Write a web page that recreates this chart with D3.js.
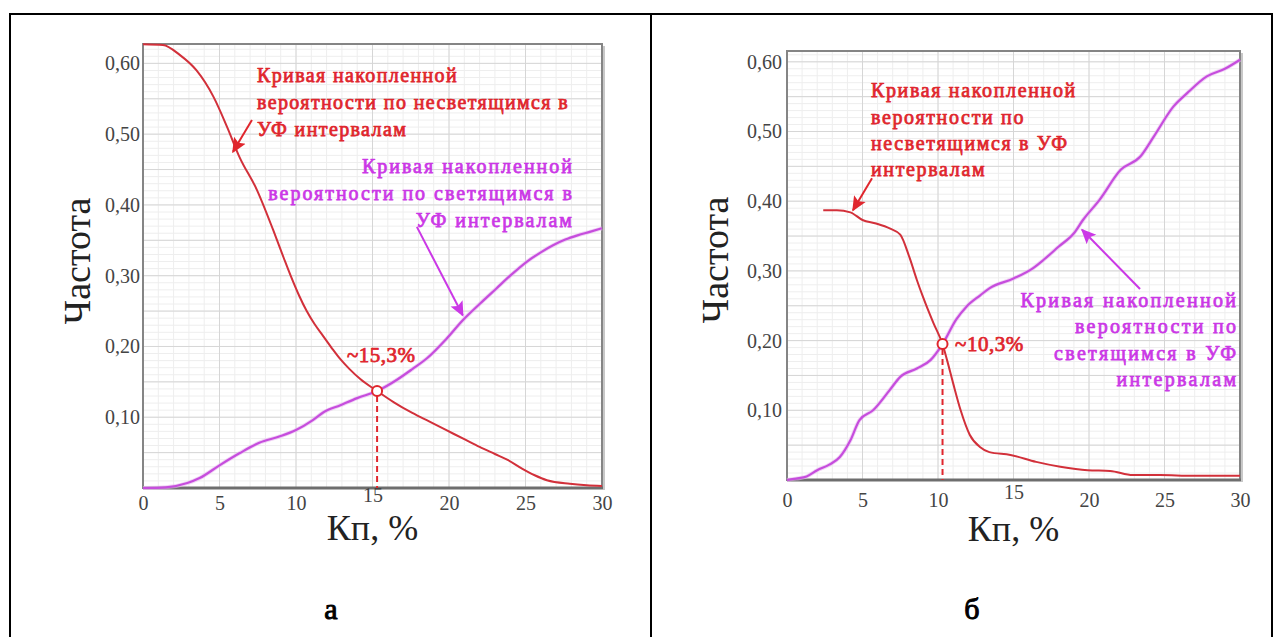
<!DOCTYPE html>
<html><head><meta charset="utf-8">
<script src="https://cdn.jsdelivr.net/npm/d3@7"></script>
<style>
html,body{margin:0;padding:0;background:#fff;}
svg{display:block;}
</style></head>
<body>
<svg id="chart" width="1282" height="637"></svg>
<script>
// ---------- DATA ----------
// Panel "а"
const kpA_dark  = [0, 1.3, 2.4, 3.5, 4.6, 5.5, 6.3, 7.45, 8.5, 9.2, 9.65, 10.2, 10.7, 11.2, 11.8, 12.4, 12.9, 13.5, 14.2, 15.3, 16.4, 17.6, 18.7, 19.8, 21.0, 22.0, 23.0, 23.8, 24.8, 25.6, 26.4, 27.9, 29.0, 30];
const freqA_dark = [0.627, 0.626, 0.612, 0.59, 0.553, 0.51, 0.468, 0.421, 0.365, 0.325, 0.300, 0.272, 0.250, 0.232, 0.214, 0.196, 0.182, 0.168, 0.154, 0.137, 0.121, 0.106, 0.094, 0.082, 0.069, 0.058, 0.048, 0.040, 0.027, 0.018, 0.011, 0.006, 0.004, 0.003];
const kpA_glow  = [0, 1.5, 2.9, 3.7, 5.0, 6.3, 7.6, 8.95, 10.0, 11.1, 11.8, 12.9, 14.0, 15.3, 16.6, 17.6, 18.6, 19.8, 20.9, 22.0, 23.1, 24.0, 25.1, 26.0, 26.8, 27.6, 28.4, 29.2, 30];
const freqA_glow = [0, 0.001, 0.007, 0.014, 0.032, 0.049, 0.064, 0.073, 0.082, 0.096, 0.107, 0.117, 0.127, 0.137, 0.153, 0.168, 0.184, 0.21, 0.237, 0.26, 0.282, 0.30, 0.32, 0.333, 0.343, 0.351, 0.357, 0.362, 0.367];
const crossA = [15.3, 0.137];

// Panel "б"
const kpB_dark  = [2.4, 3.3, 4.2, 5.0, 5.9, 6.8, 7.5, 8.1, 8.6, 9.0, 9.7, 10.3, 10.6, 11.0, 11.5, 12.1, 12.8, 13.4, 14.8, 16.5, 18.1, 19.9, 21.4, 22.9, 24.7, 26.9, 30];
const freqB_dark = [0.387, 0.387, 0.384, 0.373, 0.368, 0.361, 0.352, 0.320, 0.287, 0.263, 0.225, 0.195, 0.172, 0.139, 0.100, 0.065, 0.047, 0.040, 0.036, 0.026, 0.019, 0.014, 0.013, 0.007, 0.007, 0.006, 0.006];
const kpB_glow  = [0, 0.6, 1.3, 2.0, 2.8, 3.5, 4.2, 4.8, 5.7, 6.8, 7.5, 8.6, 9.5, 10.3, 11.2, 11.9, 12.8, 13.4, 15.0, 16.3, 17.0, 18.0, 19.0, 19.6, 20.7, 22.1, 23.4, 24.3, 25.6, 26.5, 27.8, 29.0, 30];
const freqB_glow = [0, 0.002, 0.005, 0.014, 0.022, 0.033, 0.057, 0.086, 0.100, 0.129, 0.148, 0.160, 0.172, 0.195, 0.230, 0.249, 0.265, 0.275, 0.289, 0.304, 0.316, 0.335, 0.354, 0.373, 0.402, 0.445, 0.464, 0.493, 0.536, 0.555, 0.579, 0.590, 0.603];
const crossB = [10.3, 0.195];

// Ticks / labels
const xTicks = [0, 5, 10, 15, 20, 25, 30];
const yTicks = [0.1, 0.2, 0.3, 0.4, 0.5, 0.6];
const xTitle = "Кп, %";
const yTitle = "Частота";
const darkLabelA = ["Кривая накопленной", "вероятности по несветящимся в", "УФ интервалам"];
const glowLabelA = ["Кривая накопленной", "вероятности по светящимся в", "УФ интервалам"];
const darkLabelB = ["Кривая накопленной", "вероятности по", "несветящимся в УФ", "интервалам"];
const glowLabelB = ["Кривая накопленной", "вероятности по", "светящимся в УФ", "интервалам"];
const crossLabelA = "~15,3%";
const crossLabelB = "~10,3%";
const captions = ["а", "б"];

// ---------- DRAW ----------
const svg = d3.select("#chart");
const RED = "#d2303a", MAG = "#c64ddd", RED_T = "#e0262d", MAG_T = "#cb38e6";
const SERIF = "'Liberation Serif','Times New Roman',serif";

// faux-bold serif text (bold serif face may be unavailable)
function boldText(sel, color, sw) {
  return sel.attr("font-family", SERIF).attr("font-weight", "normal").attr("fill", color)
    .attr("stroke", color).attr("stroke-width", sw || 0.75).attr("stroke-linejoin", "round");
}

// table borders
svg.append("g").attr("stroke", "#000").attr("stroke-width", 2).attr("fill", "none")
  .call(g => {
    g.append("line").attr("x1", 10).attr("y1", 14).attr("x2", 1272).attr("y2", 14);
    g.append("line").attr("x1", 10).attr("y1", 13).attr("x2", 10).attr("y2", 637);
    g.append("line").attr("x1", 651).attr("y1", 13).attr("x2", 651).attr("y2", 637);
    g.append("line").attr("x1", 1272).attr("y1", 13).attr("x2", 1272).attr("y2", 637);
  });

const defs = svg.append("defs");
[["arrR", RED_T], ["arrM", MAG_T]].forEach(([id, c]) => {
  defs.append("marker").attr("id", id).attr("viewBox", "0 0 10 10")
    .attr("refX", 9).attr("refY", 5).attr("markerWidth", 15).attr("markerHeight", 15)
    .attr("markerUnits", "userSpaceOnUse").attr("orient", "auto")
    .append("path").attr("d", "M0,0.5 L10,5 L0,9.5 L2,5 z").attr("fill", c);
});

function panel(cfg) {
  const x = d3.scaleLinear().domain([0, 30]).range([cfg.left, cfg.right]);
  const y = d3.scaleLinear().domain([0, cfg.ymax]).range([cfg.bottom, cfg.top]);
  const g = svg.append("g");

  // minor grid
  const gm = g.append("g").attr("stroke", "#eeeeee").attr("stroke-width", 1);
  d3.range(1, 30).forEach(v => gm.append("line").attr("x1", x(v)).attr("x2", x(v)).attr("y1", cfg.top).attr("y2", cfg.bottom));
  d3.range(1, Math.floor(cfg.ymax * 100) + 1).forEach(i => { const v = i / 100; gm.append("line").attr("y1", y(v)).attr("y2", y(v)).attr("x1", cfg.left).attr("x2", cfg.right); });
  // major grid
  const gM = g.append("g").attr("stroke", "#d6d6d6").attr("stroke-width", 1);
  d3.range(5, 30, 5).forEach(v => gM.append("line").attr("x1", x(v)).attr("x2", x(v)).attr("y1", cfg.top).attr("y2", cfg.bottom));
  d3.range(1, Math.floor(cfg.ymax * 20) + 1).forEach(i => { const v = i / 20; gM.append("line").attr("y1", y(v)).attr("y2", y(v)).attr("x1", cfg.left).attr("x2", cfg.right); });

  // frame
  g.append("rect").attr("x", cfg.left).attr("y", cfg.top).attr("width", cfg.right - cfg.left).attr("height", cfg.bottom - cfg.top)
    .attr("fill", "none").attr("stroke", "#858585").attr("stroke-width", 2);
  g.append("line").attr("x1", cfg.left).attr("x2", cfg.right + 1).attr("y1", cfg.bottom).attr("y2", cfg.bottom).attr("stroke", "#6e6e6e").attr("stroke-width", 3);
  g.append("line").attr("x1", cfg.right + 2).attr("x2", cfg.right + 2).attr("y1", cfg.top + 2).attr("y2", cfg.bottom + 2).attr("stroke", "#c8c8c8").attr("stroke-width", 2);

  // axes (labels only)
  const ax = d3.axisBottom(x).tickValues(xTicks).tickSize(0).tickPadding(0).tickFormat(d3.format("d"));
  g.append("g").attr("transform", `translate(0,${cfg.bottom + cfg.xLabelDy})`).call(ax)
    .call(s => s.select(".domain").remove())
    .selectAll("text").attr("font-family", SERIF).attr("font-size", 20).attr("fill", "#444")
    .attr("dy", d => d === 15 ? "-8" : "0");
  const ay = d3.axisLeft(y).tickValues(yTicks).tickSize(0).tickPadding(cfg.yLabelPad).tickFormat(v => d3.format(".2f")(v).replace(".", ","));
  g.append("g").attr("transform", `translate(${cfg.left},0)`).call(ay)
    .call(s => s.select(".domain").remove())
    .selectAll("text").attr("font-family", SERIF).attr("font-size", 20).attr("fill", "#444");

  // titles
  g.append("text").attr("x", (cfg.left + cfg.right) / 2 + cfg.xTitleDx).attr("y", cfg.xTitleY).attr("text-anchor", "middle")
    .attr("font-family", SERIF).attr("font-size", 36).attr("fill", "#222").text(xTitle);
  g.append("text").attr("transform", `translate(${cfg.yTitleX},${cfg.yTitleCY}) rotate(-90)`).attr("text-anchor", "middle")
    .attr("font-family", SERIF).attr("font-size", 38).attr("fill", "#222").text(yTitle);

  // curves
  const line = d3.line().x(d => x(d[0])).y(d => y(d[1])).curve(d3.curveMonotoneX);
  const glow = d3.zip(cfg.kpGlow, cfg.frGlow);
  const dark = d3.zip(cfg.kpDark, cfg.frDark);
  g.append("path").datum(glow).attr("d", line).attr("fill", "none").attr("stroke", "#e7b6f0").attr("stroke-width", 4).attr("opacity", 0.6);
  g.append("path").datum(glow).attr("d", line).attr("fill", "none").attr("stroke", MAG).attr("stroke-width", 2.2);
  g.append("path").datum(dark).attr("d", line).attr("fill", "none").attr("stroke", RED).attr("stroke-width", 2);

  // crossing
  g.append("line").attr("x1", x(cfg.cross[0])).attr("x2", x(cfg.cross[0])).attr("y1", y(cfg.cross[1]) + 5).attr("y2", cfg.bottom)
    .attr("stroke", RED_T).attr("stroke-width", 2).attr("stroke-dasharray", "6,4");
  g.append("circle").attr("cx", x(cfg.cross[0])).attr("cy", y(cfg.cross[1])).attr("r", 5)
    .attr("fill", "#fff").attr("stroke", RED_T).attr("stroke-width", 2);
  boldText(g.append("text"), RED_T).attr("x", x(cfg.crossLabelPos[0])).attr("y", y(cfg.crossLabelPos[1]))
    .attr("font-size", 21).attr("letter-spacing", 0.5).text(cfg.crossLabel);

  // annotation labels; letter spacing fitted so first line has target width
  function label(lines, pos, anchor, color, target) {
    const t = boldText(g.append("text"), color).attr("font-size", cfg.annSize).attr("text-anchor", anchor);
    const probe = t.append("tspan").text(lines[0]);
    const w = probe.node().getComputedTextLength();
    probe.remove();
    const ls = Math.max(0, (target - w) / lines[0].length);
    t.attr("letter-spacing", ls.toFixed(2));
    lines.forEach((s, i) => t.append("tspan").attr("x", x(pos[0]) + (anchor === "end" ? ls : 0)).attr("y", y(pos[1]) + i * cfg.annLine).text(s));
  }
  label(cfg.darkLabel, cfg.darkPos, cfg.darkAnchor, RED_T, cfg.darkW);
  label(cfg.glowLabel, cfg.glowPos, cfg.glowAnchor, MAG_T, cfg.glowW);

  // arrows
  g.append("line").attr("x1", x(cfg.darkArrow[0])).attr("y1", y(cfg.darkArrow[1])).attr("x2", x(cfg.darkArrow[2])).attr("y2", y(cfg.darkArrow[3]))
    .attr("stroke", RED_T).attr("stroke-width", 2).attr("marker-end", "url(#arrR)");
  g.append("line").attr("x1", x(cfg.glowArrow[0])).attr("y1", y(cfg.glowArrow[1])).attr("x2", x(cfg.glowArrow[2])).attr("y2", y(cfg.glowArrow[3]))
    .attr("stroke", MAG_T).attr("stroke-width", 2).attr("marker-end", "url(#arrM)");

  // caption
  boldText(svg.append("text"), "#000", 1).attr("x", cfg.capX).attr("y", 619).attr("text-anchor", "middle")
    .attr("font-size", 30).text(cfg.caption);
}

panel({
  left: 143, right: 602, top: 44, bottom: 488, ymax: 0.6274,
  xLabelDy: 22, yLabelPad: 3, xTitleDx: 0, xTitleY: 540, yTitleX: 90, yTitleCY: 261,
  kpDark: kpA_dark, frDark: freqA_dark, kpGlow: kpA_glow, frGlow: freqA_glow,
  cross: crossA, crossLabel: crossLabelA, crossLabelPos: [13.33, 0.178],
  darkLabel: darkLabelA, darkPos: [7.45, 0.574], darkAnchor: "start", darkW: 201,
  glowLabel: glowLabelA, glowPos: [28.04, 0.445], glowAnchor: "end", glowW: 212,
  annSize: 20, annLine: 27,
  darkArrow: [7.12, 0.520, 5.88, 0.475], glowArrow: [17.9, 0.369, 20.9, 0.244],
  capX: 331, caption: captions[0]
});
panel({
  left: 787, right: 1240, top: 51, bottom: 480, ymax: 0.6155,
  xLabelDy: 27, yLabelPad: 5, xTitleDx: 0, xTitleY: 541, yTitleX: 728, yTitleCY: 260,
  kpDark: kpB_dark, frDark: freqB_dark, kpGlow: kpB_glow, frGlow: freqB_glow,
  cross: crossB, crossLabel: crossLabelB, crossLabelPos: [11.13, 0.185],
  darkLabel: darkLabelB, darkPos: [5.56, 0.549], darkAnchor: "start", darkW: 206,
  glowLabel: glowLabelB, glowPos: [29.74, 0.248], glowAnchor: "end", glowW: 218,
  annSize: 20, annLine: 26.3,
  darkArrow: [5.63, 0.433, 4.37, 0.387], glowArrow: [23.38, 0.274, 19.54, 0.359],
  capX: 972, caption: captions[1]
});
</script>
</body></html>
